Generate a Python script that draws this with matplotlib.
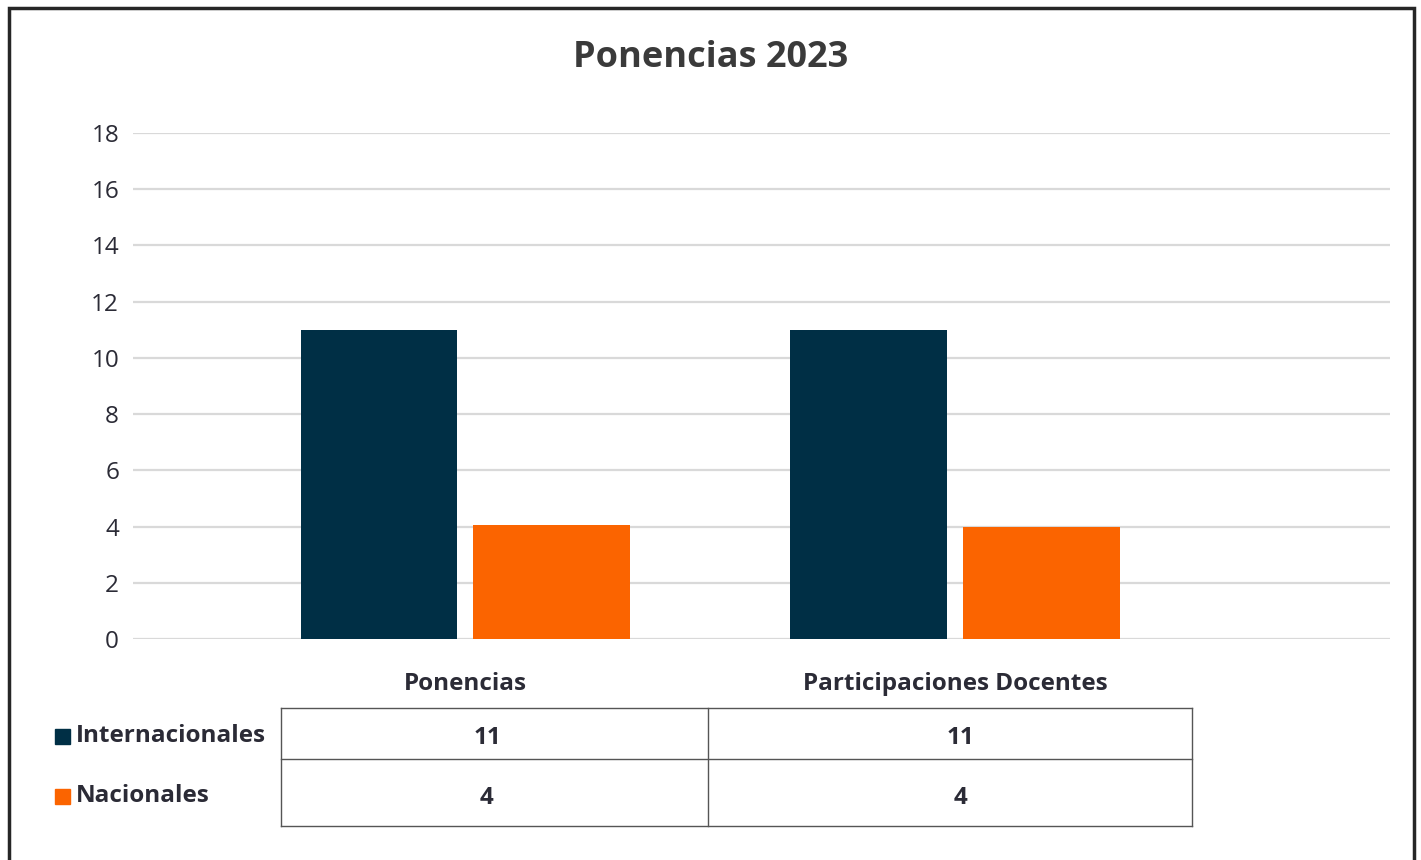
import matplotlib
matplotlib.use("Agg")
import matplotlib.pyplot as plt
from matplotlib.patches import Rectangle
import numpy as np

plt.rcParams['font.family'] = ['Open Sans', 'DejaVu Sans']

categories = ["Ponencias", "Participaciones Docentes"]
series_names = ["Internacionales", "Nacionales"]
internacionales = [11, 11]
nacionales = [4.05, 4]
table_values = [[11, 11], [4, 4]]
colors = ["#002f45", "#fb6400"]
text_color = "#2b2b36"

W, H = 1421, 860
fig = plt.figure(figsize=(W / 100, H / 100), dpi=100)

# main bar axes
ax = fig.add_axes([133 / W, 1 - 639 / H, (1390 - 133) / W, (639 - 133) / H])
x = np.arange(len(categories))
bw = 0.32
off = 0.176
ax.bar(x - off, internacionales, bw, color=colors[0], zorder=3)
ax.bar(x + off, nacionales, bw, color=colors[1], zorder=3)
ax.set_xlim(-0.678, 1.888)
ax.set_ylim(0, 18)
ax.set_yticks(np.arange(0, 19, 2))
ax.tick_params(axis='y', length=0, pad=10, labelsize=17.5, labelcolor=text_color)
ax.set_xticks([])
ax.grid(axis='y', color="#d9d9d9", linewidth=1.6, zorder=0)
for s in ax.spines.values():
    s.set_visible(False)

# overlay in pixel coords for title, table and frame
ov = fig.add_axes([0, 0, 1, 1], zorder=-1)
ov.set_xlim(0, W)
ov.set_ylim(H, 0)
ov.axis('off')

ov.text(711, 58, "Ponencias 2023", ha='center', va='center', fontsize=26,
        fontweight='bold', color="#3a3a3a")

# frame
ov.plot([9, 9, 1414, 1414], [H + 5, 8, 8, H + 5], color="#262626", lw=2.5,
        solid_joinstyle='miter', clip_on=False)

# category labels (centered on the bar groups)
for i, c in enumerate(categories):
    ax.text(i, -1.6, c, ha='center', va='center', fontsize=17.5, fontweight='bold',
            color=text_color, transform=ax.transData, clip_on=False)

# data table
col_x = [281, 708, 1192]
row_y = [708, 759, 826]
val_x = [487, 960]
lc = "#555555"
for yy in row_y:
    ov.plot([col_x[0], col_x[-1]], [yy, yy], color=lc, lw=1)
for xx in col_x:
    ov.plot([xx, xx], [row_y[0], row_y[-1]], color=lc, lw=1)
for r in range(2):
    yc = (row_y[r] + row_y[r + 1]) / 2 + (4 if r == 0 else 5)
    ov.add_patch(Rectangle((55, yc - 9), 15, 15, color=colors[r]))
    ov.text(76, yc - 1, series_names[r], ha='left', va='center', fontsize=17.5,
            fontweight='bold', color=text_color)
    for c in range(2):
        ov.text(val_x[c], yc, str(table_values[r][c]),
                ha='center', va='center', fontsize=17.5, fontweight='bold',
                color=text_color)

fig.savefig("out.png", dpi=100, facecolor="white")
